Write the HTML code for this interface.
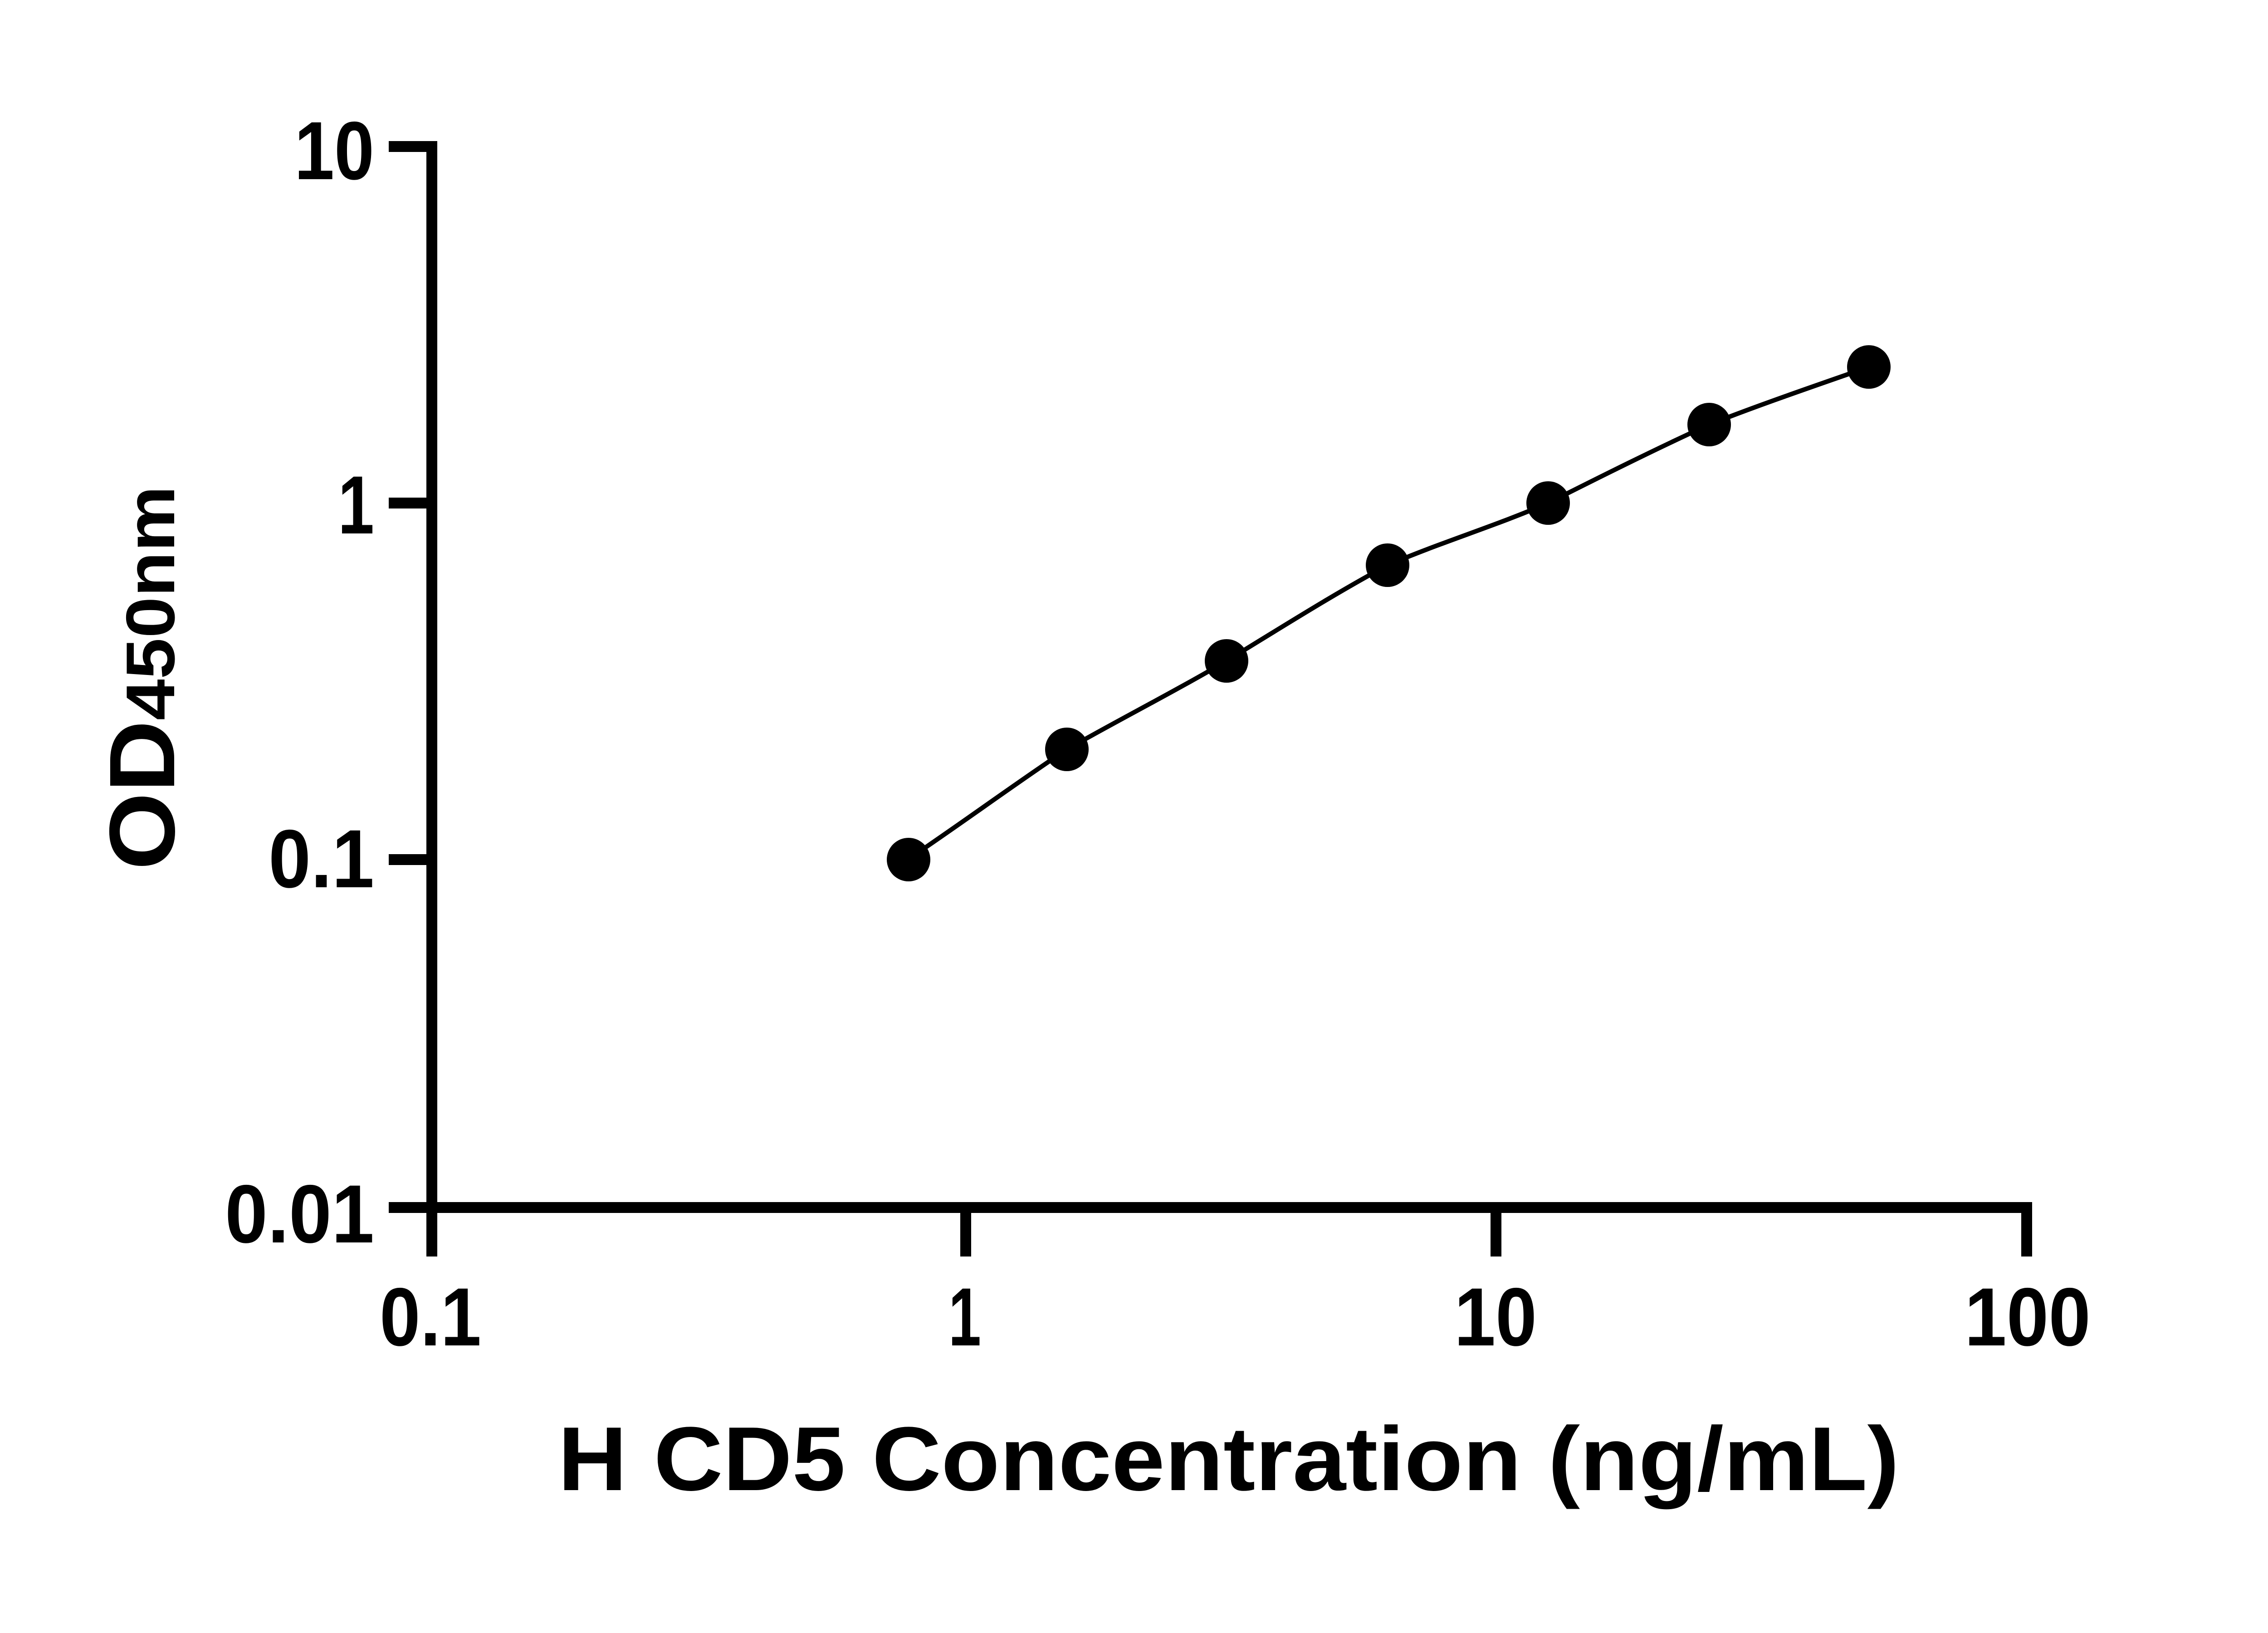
<!DOCTYPE html>
<html><head><meta charset="utf-8"><style>html,body{margin:0;padding:0;background:#fff}svg{display:block}</style></head>
<body>
<svg width="5130" height="3600" viewBox="0 0 5130 3600" xmlns="http://www.w3.org/2000/svg">
<rect width="5130" height="3600" fill="#fff"/>
<g stroke="#000" stroke-width="24" fill="none" stroke-linecap="butt">
<line x1="952" y1="311" x2="952" y2="2770"/>
<line x1="940" y1="2662" x2="4468" y2="2662"/>
<line x1="857" y1="323" x2="964" y2="323"/>
<line x1="857" y1="1109" x2="964" y2="1109"/>
<line x1="857" y1="1895" x2="964" y2="1895"/>
<line x1="857" y1="2662" x2="964" y2="2662"/>
<line x1="2129" y1="2650" x2="2129" y2="2770"/>
<line x1="3298" y1="2650" x2="3298" y2="2770"/>
<line x1="4468" y1="2650" x2="4468" y2="2770"/>
</g>
<g font-family="Liberation Sans, Arial, sans-serif" font-weight="bold" font-size="182" fill="#000" lengthAdjust="spacingAndGlyphs">
<text x="649" y="395" textLength="176" lengthAdjust="spacingAndGlyphs">10</text>
<text x="745" y="1176" textLength="80" lengthAdjust="spacingAndGlyphs">1</text>
<text x="592" y="1956" textLength="233" lengthAdjust="spacingAndGlyphs">0.1</text>
<text x="496" y="2739" textLength="329" lengthAdjust="spacingAndGlyphs">0.01</text>
<text x="837" y="2966" textLength="224" lengthAdjust="spacingAndGlyphs">0.1</text>
<text x="2091" y="2966" textLength="72" lengthAdjust="spacingAndGlyphs">1</text>
<text x="3206" y="2966" textLength="182" lengthAdjust="spacingAndGlyphs">10</text>
<text x="4331" y="2966" textLength="278" lengthAdjust="spacingAndGlyphs">100</text>
</g>
<text x="1230" y="3285" font-family="Liberation Sans, Arial, sans-serif" font-weight="bold" font-size="200" textLength="2957" lengthAdjust="spacingAndGlyphs">H CD5 Concentration (ng/mL)</text>
<text transform="translate(384,1918) rotate(-90)" font-family="Liberation Sans, Arial, sans-serif" font-weight="bold" fill="#000" textLength="847" lengthAdjust="spacingAndGlyphs"><tspan font-size="205">OD</tspan><tspan font-size="152">450nm</tspan></text>
<path d="M2001,1895 C2120,1815 2235,1730 2352,1652 C2470,1585 2588,1525 2704,1457 C2822,1385 2940,1310 3059,1246 C3178,1195 3295,1160 3413,1109 C3530,1050 3650,990 3768,936 C3885,890 4003,850 4120,809" stroke="#000" stroke-width="10" fill="none"/>
<g fill="#000">
<circle cx="2003" cy="1895" r="48"/>
<circle cx="2352" cy="1652" r="48"/>
<circle cx="2704" cy="1457" r="48"/>
<circle cx="3059" cy="1246" r="48"/>
<circle cx="3413" cy="1109" r="48"/>
<circle cx="3768" cy="936" r="48"/>
<circle cx="4120" cy="809" r="48"/>
</g>
</svg>
</body></html>
